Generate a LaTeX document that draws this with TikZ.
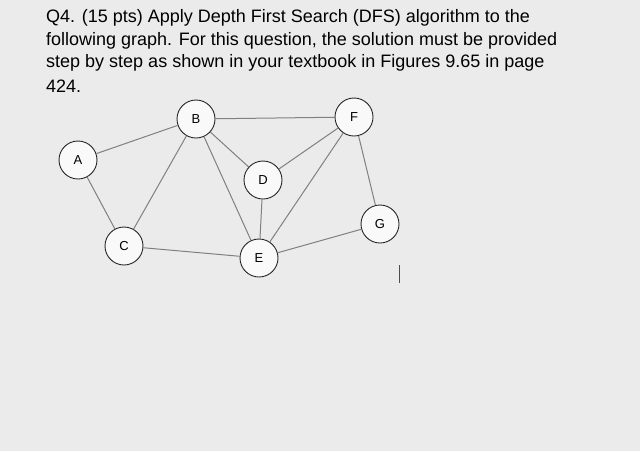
\documentclass[tikz,border=0pt]{standalone}
\usepackage{fontspec}
\setmainfont{Liberation Sans}
\begin{document}
\begin{tikzpicture}[x=1pt,y=-1pt,
  vtx/.style={circle,draw=black!85,fill=white!95!gray,minimum size=38pt,inner sep=0pt,line width=0.9pt,font=\fontsize{13}{13}\selectfont},
  edge/.style={draw=black!50,line width=1pt},
  q/.style={anchor=west,inner sep=0pt,font=\fontsize{18}{18}\selectfont,text=black}]
\fill[black!8] (0,0) rectangle (640,451);
\useasboundingbox (0,0) rectangle (640,451);
\node[q] (l1) at (46,18) {Q4. (15 pts) Apply Depth First Search (DFS) algorithm to the};
\node[q] (l2) at (46,41) {following graph. For this question, the solution must be provided};
\node[q] (l3) at (46,63) {step by step as shown in your textbook in Figures 9.65 in page};
\node[q] (l4) at (46,86) {424.};
\node[vtx] (A) at (78,160) {A};
\node[vtx] (B) at (196,119) {B};
\node[vtx] (F) at (354,117) {F};
\node[vtx] (D) at (263,180) {D};
\node[vtx] (G) at (380,224) {G};
\node[vtx] (C) at (124,246) {C};
\node[vtx] (E) at (259,258) {E};
\foreach \a/\b in {A/B,A/C,B/C,B/F,B/D,B/E,D/F,D/E,C/E,E/F,F/G,E/G}
  \draw[edge] (\a) -- (\b);
\coordinate (c1) at (399,265); \coordinate (c2) at (399,283);
\draw[black!70,line width=0.8pt] (c1) -- (c2);
\end{tikzpicture}
\end{document}
